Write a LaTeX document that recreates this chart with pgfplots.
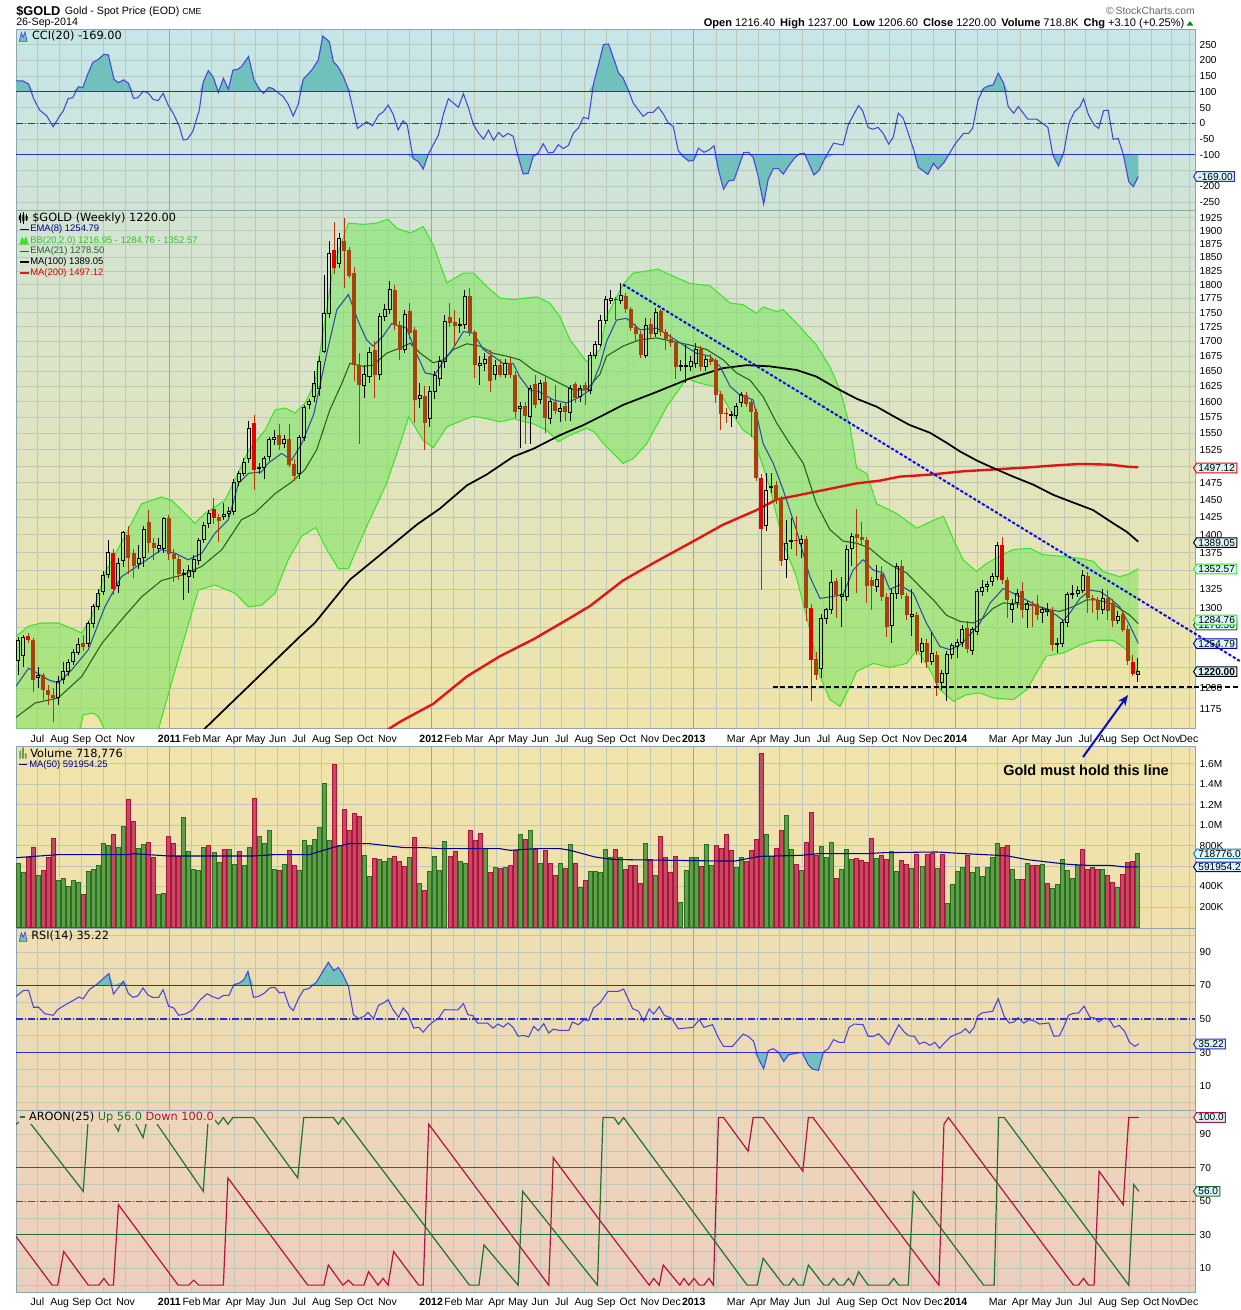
\documentclass[border=0pt]{standalone}
\usepackage{pgfplots}
\pgfplotsset{compat=1.18}
\usepackage{pgfplotstable}
\usetikzlibrary{arrows.meta,shapes.symbols}
\usepackage{fontspec}
\setmainfont{Liberation Sans}
\newfontfamily\dejavu{DejaVu Sans}

\definecolor{gridc}{RGB}{190,200,186}
\definecolor{yearc}{RGB}{150,170,152}
\definecolor{axisc}{RGB}{140,165,175}
\definecolor{ccil}{RGB}{70,70,222}
\definecolor{lvl}{RGB}{45,45,210}
\definecolor{ccifill}{RGB}{112,192,188}
\definecolor{bbline}{RGB}{60,228,40}
\definecolor{bbfill}{RGB}{120,228,95}
\definecolor{bbmid}{RGB}{130,220,110}
\definecolor{emaeight}{RGB}{40,80,165}
\definecolor{ematwo}{RGB}{30,100,30}
\definecolor{matwo}{RGB}{228,20,20}
\definecolor{bodyc}{RGB}{168,66,10}
\definecolor{redc}{RGB}{226,0,0}
\definecolor{wickc}{RGB}{190,50,10}
\definecolor{volg}{RGB}{96,158,74}
\definecolor{volgd}{RGB}{40,112,32}
\definecolor{volr}{RGB}{200,74,98}
\definecolor{volrd}{RGB}{172,20,62}
\definecolor{volma}{RGB}{0,0,140}
\definecolor{aup}{RGB}{30,115,50}
\definecolor{adn}{RGB}{180,20,60}
\definecolor{alvl}{RGB}{30,115,45}
\definecolor{boxfill}{RGB}{218,246,250}
\definecolor{trend}{RGB}{10,10,235}
\definecolor{cciT}{RGB}{198,230,232}
\definecolor{cciB}{RGB}{208,228,214}
\definecolor{prT}{RGB}{210,228,212}
\definecolor{prB}{RGB}{240,228,168}
\definecolor{voT}{RGB}{240,227,172}
\definecolor{voB}{RGB}{240,225,172}
\definecolor{rsT}{RGB}{238,223,178}
\definecolor{rsB}{RGB}{237,216,182}
\definecolor{arT}{RGB}{237,215,186}
\definecolor{arB}{RGB}{237,205,190}

\newcommand\xfont{\fontsize{7.9}{9}\selectfont}
\newcommand\yfont{\fontsize{7.6}{9}\selectfont}
\newcommand\legfont{\fontsize{7.1}{8.5}\selectfont}
\newcommand\titfont{\dejavu\fontsize{8.5}{10}\selectfont}
\newcommand\boxfont{\fontsize{7.6}{9}\selectfont}

\pgfplotsset{
 panel/.style={
   scale only axis, width=884.25pt, height=136.5pt,
   xmin=-0.4, xmax=234.4, anchor=north west,
   axis line style={draw=axisc, line width=0.75pt},
   grid=major, major grid style={draw=gridc, line width=0.6pt},
   xtick={3.86,8.29,12.71,17,21.43,25.71,34.57,38.57,43,47.29,51.71,56,60.43,64.86,69.14,73.57,77.86,86.71,90.86,95.29,99.57,104,108.29,112.71,117.14,121.43,125.86,130.14,139,143,147.43,151.71,156.14,160.43,164.86,169.29,173.57,178,182.29,191.14,195.14,199.57,203.86,208.29,212.57,217,221.43,225.71,229.6,233.2},
   extra x ticks={30.14,82.29,134.57,186.71},
   extra x tick style={grid=major, major grid style={draw=yearc, line width=0.75pt}},
   major tick length=0pt,
   ytick pos=right, yticklabel pos=right,
   xticklabel style={font=\xfont, yshift=-1pt},
   yticklabel style={font=\yfont, anchor=west},
 },
 nolab/.style={xticklabels={}, extra x tick labels={}, xticklabel style={text opacity=0}},
 lab/.style={xticklabels={Jul,Aug,Sep,Oct,Nov,{},Feb,Mar,Apr,May,Jun,Jul,Aug,Sep,Oct,Nov,{},Feb,Mar,Apr,May,Jun,Jul,Aug,Sep,Oct,Nov,Dec,{},Mar,Apr,May,Jun,Jul,Aug,Sep,Oct,Nov,Dec,{},Mar,Apr,May,Jun,Jul,Aug,Sep,Oct,Nov,Dec},
   extra x tick labels={\textbf{2011},\textbf{2012},\textbf{2013},\textbf{2014}}},
 candle/.style={draw=none, mark=none, error bars/y explicit, error bars/error mark=none},
}
\tikzset{vbox/.style={signal, signal to=west, signal pointer angle=115, fill=boxfill, line width=0.75pt, inner xsep=1.3pt, inner ysep=0.9pt, font=\boxfont, anchor=west}}

% ---------------- weekly candles: i open high low close type(0 hollow up,1 down,2 red down)
\pgfplotstableread{
i o h l c t
0 1234 1263 1216 1259 0
1 1240 1265 1225 1262 0
2 1264 1268 1255 1259 2
3 1259 1262 1195 1210 1
4 1213 1225 1200 1215 0
5 1216 1218 1185 1198 1
6 1198 1203 1180 1192 1
7 1192 1200 1160 1188 1
8 1188 1215 1180 1208 0
9 1210 1232 1205 1220 0
10 1220 1236 1215 1231 0
11 1232 1248 1228 1243 0
12 1243 1262 1240 1253 0
13 1255 1265 1246 1250 1
14 1255 1283 1250 1280 0
15 1280 1305 1275 1302 0
16 1302 1325 1298 1320 0
17 1322 1350 1318 1344 0
18 1345 1393 1340 1375 0
19 1375 1380 1318 1326 2
20 1330 1368 1320 1360 0
21 1364 1405 1355 1403 0
22 1400 1412 1345 1368 1
23 1375 1380 1340 1356 1
24 1360 1385 1352 1367 0
25 1368 1412 1355 1407 0
26 1418 1435 1375 1388 1
27 1388 1395 1365 1381 1
28 1381 1395 1375 1385 0
29 1381 1425 1375 1423 0
30 1423 1428 1365 1373 1
31 1373 1380 1335 1366 1
32 1366 1370 1337 1345 1
33 1345 1352 1311 1346 0
34 1342 1358 1320 1351 0
35 1349 1372 1340 1365 0
36 1364 1395 1358 1392 0
37 1393 1418 1388 1413 0
38 1415 1435 1410 1430 0
39 1437 1452 1415 1423 2
40 1425 1430 1390 1419 1
41 1426 1445 1420 1428 0
42 1430 1440 1425 1433 0
43 1433 1480 1428 1476 0
44 1477 1492 1470 1489 0
45 1489 1512 1485 1505 0
46 1511 1570 1505 1558 0
47 1567 1579 1464 1494 2
48 1496 1505 1488 1497 0
49 1497 1515 1480 1511 0
50 1514 1545 1508 1540 0
51 1540 1555 1532 1543 0
52 1547 1565 1525 1532 1
53 1535 1548 1528 1541 0
54 1542 1565 1498 1501 1
55 1503 1510 1478 1485 1
56 1489 1548 1480 1544 0
57 1544 1595 1538 1591 0
58 1595 1605 1588 1600 0
59 1608 1650 1600 1630 0
60 1622 1675 1610 1666 0
61 1683 1818 1680 1749 0
62 1749 1880 1740 1858 0
63 1864 1918 1820 1830 2
64 1839 1895 1830 1886 0
65 1880 1925 1794 1861 1
66 1864 1870 1812 1815 1
67 1821 1833 1633 1660 1
68 1660 1680 1534 1627 1
69 1627 1660 1606 1644 0
70 1641 1690 1630 1682 0
71 1686 1700 1606 1644 1
72 1644 1750 1635 1744 0
73 1744 1765 1735 1756 0
74 1755 1806 1748 1791 0
75 1791 1800 1720 1728 1
76 1728 1735 1669 1686 1
77 1686 1755 1680 1747 0
78 1752 1767 1705 1714 1
79 1720 1725 1566 1602 1
80 1606 1630 1590 1610 0
81 1610 1625 1525 1566 1
82 1573 1625 1560 1617 0
83 1617 1650 1605 1643 0
84 1638 1675 1625 1666 0
85 1666 1745 1655 1735 0
86 1742 1767 1725 1732 1
87 1733 1755 1690 1726 1
88 1728 1740 1715 1730 0
89 1730 1791 1722 1778 0
90 1779 1794 1710 1717 1
91 1716 1720 1638 1660 1
92 1660 1675 1627 1663 0
93 1663 1680 1650 1669 0
94 1675 1685 1615 1633 1
95 1644 1668 1635 1660 0
96 1660 1670 1640 1644 1
97 1644 1670 1638 1663 0
98 1664 1675 1638 1644 1
99 1644 1650 1574 1583 1
100 1589 1600 1527 1593 0
101 1593 1600 1534 1577 1
102 1577 1628 1534 1622 0
103 1629 1644 1590 1595 1
104 1604 1636 1596 1630 0
105 1632 1640 1550 1574 1
106 1574 1605 1565 1600 0
107 1600 1627 1580 1586 1
108 1585 1598 1568 1590 0
109 1594 1600 1569 1583 1
110 1583 1628 1569 1621 0
111 1629 1632 1598 1606 1
112 1608 1628 1600 1622 0
113 1627 1632 1595 1619 1
114 1619 1682 1612 1677 0
115 1677 1700 1670 1694 0
116 1694 1745 1690 1737 0
117 1737 1780 1730 1774 0
118 1772 1791 1765 1775 0
119 1775 1778 1737 1772 2
120 1771 1803 1765 1781 0
121 1780 1785 1750 1756 1
122 1756 1760 1718 1723 1
123 1724 1730 1699 1712 1
124 1712 1718 1672 1677 1
125 1676 1740 1672 1728 0
126 1731 1740 1705 1712 1
127 1714 1758 1708 1750 0
128 1752 1756 1710 1716 1
129 1716 1722 1686 1705 1
130 1705 1712 1690 1697 1
131 1697 1700 1637 1657 1
132 1658 1669 1650 1659 0
133 1658 1694 1630 1660 0
134 1657 1675 1650 1666 0
135 1662 1697 1655 1686 0
136 1688 1692 1650 1657 1
137 1657 1675 1650 1669 0
138 1670 1678 1660 1666 1
139 1669 1672 1598 1611 1
140 1612 1618 1555 1580 1
141 1582 1590 1566 1580 2
142 1578 1585 1560 1579 0
143 1578 1598 1572 1592 0
144 1598 1616 1592 1611 0
145 1611 1616 1592 1597 1
146 1600 1605 1545 1583 1
147 1583 1588 1478 1482 1
148 1482 1488 1324 1408 2
149 1413 1489 1405 1464 0
150 1468 1489 1460 1470 0
151 1472 1478 1444 1450 1
152 1450 1455 1356 1363 1
153 1365 1421 1340 1388 0
154 1390 1424 1380 1392 0
155 1392 1426 1370 1391 2
156 1388 1400 1367 1393 0
157 1394 1398 1283 1300 1
158 1300 1305 1184 1234 2
159 1236 1244 1210 1216 1
160 1224 1292 1212 1287 0
161 1287 1300 1280 1298 0
162 1298 1351 1292 1334 0
163 1336 1340 1287 1317 1
164 1316 1342 1276 1318 0
165 1316 1385 1310 1379 0
166 1381 1402 1356 1398 0
167 1401 1437 1320 1395 1
168 1397 1418 1385 1393 1
169 1393 1397 1307 1329 1
170 1337 1342 1298 1329 1
171 1329 1358 1322 1338 0
172 1345 1356 1310 1315 1
173 1315 1320 1263 1276 1
174 1278 1325 1255 1320 0
175 1320 1360 1312 1356 0
176 1356 1365 1312 1318 1
177 1316 1320 1285 1291 1
178 1290 1326 1264 1292 0
179 1291 1295 1240 1245 1
180 1245 1262 1230 1255 0
181 1255 1260 1224 1232 1
182 1232 1270 1228 1242 0
183 1241 1245 1190 1206 1
184 1206 1222 1198 1218 0
185 1218 1245 1184 1241 0
186 1241 1256 1235 1252 0
187 1251 1260 1237 1256 0
188 1256 1278 1250 1272 0
189 1274 1283 1243 1248 1
190 1246 1276 1240 1272 0
191 1270 1326 1265 1322 0
192 1322 1337 1316 1328 0
193 1329 1336 1322 1331 0
194 1336 1347 1330 1342 0
195 1342 1390 1337 1385 0
196 1386 1396 1332 1337 2
197 1337 1342 1287 1311 1
198 1298 1312 1281 1305 0
199 1307 1325 1300 1320 0
200 1323 1335 1287 1298 1
201 1298 1310 1274 1306 0
202 1305 1310 1276 1303 1
203 1305 1318 1285 1291 1
204 1294 1302 1281 1298 0
205 1296 1307 1290 1298 0
206 1298 1302 1245 1253 1
207 1253 1262 1243 1255 0
208 1255 1285 1250 1281 0
209 1281 1322 1276 1318 0
210 1318 1331 1312 1320 0
211 1320 1330 1315 1324 0
212 1324 1351 1320 1343 0
213 1343 1348 1294 1313 1
214 1313 1318 1294 1311 1
215 1311 1315 1285 1298 1
216 1298 1326 1293 1313 0
217 1313 1324 1285 1296 1
218 1307 1312 1276 1284 1
219 1284 1296 1280 1290 0
220 1293 1298 1270 1272 1
221 1273 1278 1228 1233 1
222 1232 1240 1214 1217 2
223 1216.4 1237 1206.6 1220 0
}\price

\pgfplotstableread{
i v
-0.4 1202
2.1 1224
6.0 1210
8.0 1206
10.7 1222
14.0 1247
17.3 1302
20.6 1342
24.6 1360
28.6 1379
31.3 1374
33.9 1365
36.6 1374
39.2 1402
41.9 1421
43.9 1474
45.9 1489
48.5 1491
49.8 1504
52.5 1519
54.5 1509
56.5 1534
58.9 1580
61.5 1680
63.5 1755
65.8 1782
67.8 1734
69.4 1703
70.7 1692
72.7 1709
74.4 1731
76.1 1726
77.4 1723
79.0 1686
81.1 1647
83.0 1644
84.7 1666
86.7 1689
88.7 1717
90.7 1714
92.7 1686
94.6 1675
96.6 1663
98.6 1663
99.9 1641
101.9 1619
103.9 1616
106.6 1603
109.3 1598
111.9 1608
113.9 1619
115.9 1660
117.2 1700
119.2 1737
121.2 1740
123.9 1720
127.2 1723
129.8 1709
132.5 1694
135.1 1680
137.8 1675
139.8 1658
141.8 1625
143.8 1611
146.4 1603
148.4 1534
150.4 1504
152.4 1464
155.0 1407
157.7 1342
159.7 1313
161.7 1315
164.3 1318
166.3 1351
168.3 1365
170.3 1351
172.3 1347
173.6 1325
175.6 1331
178.3 1320
180.9 1281
183.6 1251
185.6 1247
187.6 1253
189.6 1266
191.6 1281
193.6 1307
196.2 1326
198.2 1320
200.2 1313
202.8 1304
204.8 1298
206.8 1291
208.2 1284
209.5 1294
211.5 1313
213.5 1324
215.5 1322
217.5 1313
219.4 1302
221.4 1278
223.1 1255
}\emaA

\pgfplotstableread{
i v
-0.4 1165
3.4 1182
8.0 1188
12.7 1214
16.7 1255
20.6 1285
24.6 1315
28.6 1337
32.6 1344
36.6 1356
40.6 1379
44.5 1421
47.2 1431
51.2 1459
54.5 1476
57.1 1494
59.5 1525
62.1 1587
64.5 1630
66.1 1663
68.8 1658
70.7 1660
73.4 1680
76.1 1689
78.1 1697
80.1 1680
82.7 1664
84.7 1669
86.7 1686
89.4 1696
92.0 1692
94.6 1680
97.3 1675
99.9 1669
102.6 1652
105.3 1641
107.9 1630
110.6 1619
113.2 1619
115.9 1645
117.2 1675
120.5 1692
123.9 1703
127.2 1706
130.5 1700
133.8 1694
137.2 1686
140.4 1669
143.1 1647
145.8 1635
148.4 1608
151.1 1566
153.7 1534
156.4 1504
159.0 1444
161.7 1407
164.3 1391
167.0 1388
169.6 1381
172.3 1365
174.3 1356
177.0 1347
179.6 1329
182.3 1311
184.9 1291
187.6 1283
190.2 1281
192.2 1287
194.2 1300
196.2 1307
198.2 1306
200.9 1305
203.5 1302
205.5 1298
207.5 1296
210.1 1302
212.8 1311
214.8 1311
217.4 1307
219.4 1300
221.4 1291
223.1 1280
}\emaB

\pgfplotstableread{
i v
35 1140
37.2 1152
56.2 1264
59.1 1281
66.1 1338
72.7 1375
79.4 1414
84.0 1437
89.4 1471
93.3 1487
98.6 1514
102.6 1526
107.9 1547
112.6 1563
115.9 1576
120.5 1595
127.2 1616
133.8 1638
140.4 1655
145.1 1660
149.7 1658
155.0 1652
159.0 1641
163.0 1622
167.0 1605
171.0 1592
175.0 1574
177.6 1563
181.6 1551
185.0 1535
187.6 1522
191.0 1508
194.2 1497
198.2 1484
202.2 1472
206.2 1457
210.1 1446
214.1 1435
218.1 1416
220.8 1404
223.1 1390
}\maA

\pgfplotstableread{
i v
71 1142
73.4 1150
76.1 1160
82.7 1181
89.4 1214
96.0 1239
102.6 1260
109.3 1285
113.9 1303
120.5 1337
127.2 1363
133.8 1388
140.4 1414
147.1 1435
151.0 1450
153.7 1454
160.4 1464
167.0 1474
171.6 1478
175.6 1484
181.6 1487
188.2 1492
194.9 1495
201.5 1498
206.8 1501
211.5 1503
217.5 1502
220.8 1499
223.1 1498
}\maB

\pgfplotstableread{
i v
-0.4 1264
2.1 1277
4.7 1281
8.0 1281
10.7 1274
12.7 1268
14.7 1290
17.3 1347
21.3 1398
24.6 1444
28.6 1454
30.6 1449
32.6 1435
35.2 1416
37.2 1430
41.2 1449
43.2 1479
45.9 1524
49.2 1555
51.2 1587
53.2 1590
55.2 1582
57.2 1598
59.1 1630
60.1 1680
62.8 1833
65.8 1915
68.8 1912
71.4 1915
73.7 1922
75.4 1905
78.1 1896
80.7 1908
82.7 1873
85.4 1803
88.7 1821
90.7 1821
93.3 1797
96.0 1776
98.6 1773
103.3 1778
105.9 1767
107.9 1743
109.9 1703
113.2 1666
115.9 1686
117.2 1743
120.5 1800
122.5 1821
127.5 1828
129.8 1818
133.8 1802
137.8 1798
141.8 1767
144.4 1764
147.1 1749
148.4 1760
151.0 1752
152.4 1755
155.0 1732
159.0 1694
161.7 1657
163.7 1619
165.7 1560
167.0 1497
169.0 1489
171.0 1444
173.6 1435
175.0 1430
179.0 1409
181.6 1418
184.3 1426
186.3 1393
188.2 1365
190.9 1349
192.9 1360
195.5 1370
198.2 1379
201.5 1381
204.1 1372
207.5 1370
211.5 1367
214.1 1363
216.1 1349
219.4 1342
221.4 1346
223.1 1353
}\bbU

\pgfplotstableread{
i v
-0.4 1125
5 1132
10.0 1140
12.3 1152
13.0 1168
15.0 1170
16.0 1166
17.3 1150
20.0 1138
24.0 1132
27.9 1150
31.3 1222
35.9 1324
39.2 1331
43.2 1320
45.9 1302
48.5 1304
51.2 1320
53.8 1365
56.5 1398
59.3 1410
61.5 1379
63.8 1353
65.8 1353
69.4 1411
73.4 1474
76.1 1534
77.8 1576
80.7 1539
82.7 1528
85.4 1560
88.7 1571
90.7 1577
93.3 1573
96.0 1568
98.6 1573
102.6 1565
105.3 1555
107.6 1537
109.9 1547
113.2 1558
114.8 1552
116.6 1534
120.5 1504
122.5 1511
125.2 1534
129.2 1592
133.2 1638
135.8 1630
139.1 1624
141.8 1587
144.4 1555
146.4 1545
149.7 1469
152.4 1388
155.0 1342
157.7 1272
159.7 1214
161.7 1186
163.7 1178
165.7 1202
167.0 1220
170.3 1230
173.6 1225
177.0 1230
179.0 1247
181.6 1222
183.6 1198
186.3 1184
188.9 1192
191.6 1194
194.2 1188
198.2 1186
200.9 1198
202.8 1218
204.8 1239
208.2 1243
211.5 1253
214.8 1259
218.1 1259
220.8 1247
223.1 1217
}\bbL

% band outline: upper band forward, then lower band backward (for the fill)
\pgfplotstableread{
i v
-0.4 1264
2.1 1277
4.7 1281
8.0 1281
10.7 1274
12.7 1268
14.7 1290
17.3 1347
21.3 1398
24.6 1444
28.6 1454
30.6 1449
32.6 1435
35.2 1416
37.2 1430
41.2 1449
43.2 1479
45.9 1524
49.2 1555
51.2 1587
53.2 1590
55.2 1582
57.2 1598
59.1 1630
60.1 1680
62.8 1833
65.8 1915
68.8 1912
71.4 1915
73.7 1922
75.4 1905
78.1 1896
80.7 1908
82.7 1873
85.4 1803
88.7 1821
90.7 1821
93.3 1797
96.0 1776
98.6 1773
103.3 1778
105.9 1767
107.9 1743
109.9 1703
113.2 1666
115.9 1686
117.2 1743
120.5 1800
122.5 1821
127.5 1828
129.8 1818
133.8 1802
137.8 1798
141.8 1767
144.4 1764
147.1 1749
148.4 1760
151.0 1752
152.4 1755
155.0 1732
159.0 1694
161.7 1657
163.7 1619
165.7 1560
167.0 1497
169.0 1489
171.0 1444
173.6 1435
175.0 1430
179.0 1409
181.6 1418
184.3 1426
186.3 1393
188.2 1365
190.9 1349
192.9 1360
195.5 1370
198.2 1379
201.5 1381
204.1 1372
207.5 1370
211.5 1367
214.1 1363
216.1 1349
219.4 1342
221.4 1346
223.1 1353
223.1 1217
220.8 1247
218.1 1259
214.8 1259
211.5 1253
208.2 1243
204.8 1239
202.8 1218
200.9 1198
198.2 1186
194.2 1188
191.6 1194
188.9 1192
186.3 1184
183.6 1198
181.6 1222
179.0 1247
177.0 1230
173.6 1225
170.3 1230
167.0 1220
165.7 1202
163.7 1178
161.7 1186
159.7 1214
157.7 1272
155.0 1342
152.4 1388
149.7 1469
146.4 1545
144.4 1555
141.8 1587
139.1 1624
135.8 1630
133.2 1638
129.2 1592
125.2 1534
122.5 1511
120.5 1504
116.6 1534
114.8 1552
113.2 1558
109.9 1547
107.6 1537
105.3 1555
102.6 1565
98.6 1573
96.0 1568
93.3 1573
90.7 1577
88.7 1571
85.4 1560
82.7 1528
80.7 1539
77.8 1576
76.1 1534
73.4 1474
69.4 1411
65.8 1353
63.8 1353
61.5 1379
59.3 1410
56.5 1398
53.8 1365
51.2 1320
48.5 1304
45.9 1302
43.2 1320
39.2 1331
35.9 1324
31.3 1222
27.9 1150
24.0 1132
20.0 1138
17.3 1150
16.0 1166
15.0 1170
13.0 1168
12.3 1152
10.0 1140
5 1132
-0.4 1125
}\bbPoly

\pgfplotstableread{
i v
-0.4 1195
10 1214
20 1262
30 1322
40 1386
50 1441
60 1538
70 1676
80 1727
90 1698
100 1672
110 1623
120 1649
130 1707
140 1695
150 1604
160 1445
170 1344
180 1324
190 1273
200 1288
210 1308
220 1298
223.1 1285
}\bbM

% ---------------- volume (thousands), g=1 green
\pgfplotstableread{
i v g
0 623 1
1 535 1
2 688 0
3 779 0
4 506 1
5 554 0
6 681 0
7 867 0
8 457 1
9 480 1
10 402 1
11 457 1
12 437 1
13 320 0
14 545 1
15 564 1
16 603 1
17 818 1
18 798 1
19 906 0
20 779 1
21 984 1
22 1247 0
23 1036 0
24 769 1
25 808 1
26 828 0
27 681 0
28 324 1
29 330 1
30 886 0
31 818 0
32 691 0
33 1072 1
34 740 1
35 564 1
36 554 1
37 785 1
38 798 0
39 733 1
40 633 1
41 766 0
42 766 1
43 613 1
44 740 0
45 603 1
46 779 1
47 1257 0
48 886 1
49 818 1
50 945 1
51 564 1
52 554 0
53 613 1
54 749 0
55 603 0
56 554 1
57 854 1
58 798 1
59 863 1
60 974 1
61 1403 1
62 850 1
63 1589 0
64 805 1
65 1150 0
66 945 0
67 1111 0
68 1081 0
69 701 1
70 496 1
71 672 0
72 668 1
73 642 1
74 672 1
75 698 0
76 642 0
77 594 0
78 681 1
79 876 0
80 428 1
81 359 0
82 545 1
83 691 1
84 554 1
85 837 1
86 691 0
87 743 0
88 642 1
89 623 1
90 945 0
91 850 0
92 915 0
93 776 1
94 535 0
95 587 1
96 577 0
97 587 1
98 606 0
99 750 0
100 906 1
101 863 0
102 945 1
103 766 0
104 623 1
105 750 0
106 623 0
107 506 0
108 623 1
109 577 0
110 808 1
111 623 0
112 389 1
113 460 0
114 545 1
115 548 1
116 538 1
117 759 1
118 688 1
119 763 0
120 688 1
121 564 0
122 603 0
123 603 0
124 428 0
125 818 1
126 662 0
127 506 1
128 886 0
129 681 0
130 535 0
131 691 0
132 242 1
133 554 1
134 681 1
135 681 1
136 594 0
137 808 1
138 603 1
139 798 0
140 769 0
141 906 0
142 753 0
143 587 1
144 681 1
145 642 0
146 753 0
147 857 0
148 1696 0
149 906 1
150 691 1
151 769 0
152 948 0
153 1091 1
154 759 1
155 613 0
156 554 1
157 828 0
158 1120 0
159 701 0
160 789 1
161 681 1
162 828 1
163 476 0
164 564 1
165 759 1
166 662 1
167 672 0
168 652 0
169 633 0
170 867 0
171 672 1
172 701 0
173 662 0
174 740 1
175 545 1
176 652 0
177 613 0
178 580 1
179 717 0
180 593 1
181 717 0
182 727 0
183 577 1
184 711 0
185 233 1
186 421 1
187 545 1
188 584 1
189 701 0
190 535 1
191 590 1
192 496 1
193 590 1
194 681 1
195 818 1
196 779 0
197 798 0
198 564 1
199 473 1
200 467 0
201 623 1
202 603 0
203 603 0
204 613 1
205 428 0
206 379 1
207 418 1
208 662 1
209 554 1
210 476 1
211 603 1
212 759 0
213 564 0
214 584 0
215 564 0
216 564 1
217 512 0
218 437 0
219 389 1
220 515 0
221 633 0
222 642 0
223 719 1
}\vol

\pgfplotstableread{
i v
-0.4 681
8 711
22 711
23 720
30 698
47 698
51 711
58 711
63 785
66 818
70 818
77 779
81 779
84 769
96 769
98 753
103 769
108 769
110 753
114.9 688
118.2 665
120.7 662
139.6 649
142.8 649
147.7 694
155.9 704
159.2 720
169.0 720
172.3 730
183.0 737
188.7 720
196.9 700
201.0 662
205.1 639
209.2 616
213.3 606
217.4 606
220.7 590
223.1 592
}\volma

% ---------------- CCI(20)
\pgfplotstableread{
i v
-0.4 135
0.9 135
2.1 125
3.1 79
4.3 42
5.7 24
7.0 -11
8.2 21
9.0 39
10.0 79
10.9 81
12.0 116
12.9 113
13.8 153
14.9 193
16.0 203
17.1 219
18.0 217
19.1 140
20.0 129
21.0 138
22.0 127
23.0 79
23.8 81
25.0 102
26.0 95
26.9 76
27.9 72
28.9 95
29.9 58
30.9 32
32.1 -8
32.9 -53
33.7 -51
34.8 -26
36.1 42
36.9 132
37.9 167
38.9 146
39.9 98
40.9 143
41.9 108
42.8 169
43.7 171
44.5 180
45.9 212
47.0 138
48.1 108
48.9 95
49.9 114
50.7 111
51.8 97
52.8 85
53.8 61
54.8 23
55.8 60
56.8 140
58.5 169
59.8 201
60.7 277
62.0 259
62.8 196
63.8 178
64.8 148
65.8 108
67.6 -16
68.4 -7
69.4 5
70.6 -8
71.8 26
72.8 37
73.7 58
74.7 29
75.7 -21
76.7 8
77.5 -4
78.7 -112
79.7 -121
80.7 -145
81.7 -99
82.7 -68
83.7 -38
84.7 28
85.7 78
87.7 51
88.7 94
89.7 49
90.7 -4
91.7 -31
92.7 -50
93.7 -22
94.7 -54
95.7 -29
96.6 -43
97.6 -32
98.6 -41
99.6 -105
100.6 -161
101.6 -159
102.6 -105
103.6 -94
104.6 -65
105.6 -94
106.6 -92
107.6 -68
108.6 -80
109.6 -70
110.6 -31
111.6 -15
112.6 19
113.6 14
114.6 125
115.6 186
116.6 250
117.6 252
118.6 207
119.6 160
120.5 144
121.5 107
122.5 65
123.5 43
124.5 22
125.5 35
126.5 35
127.5 52
128.5 30
129.5 1
130.5 -10
131.5 -87
132.5 -106
133.6 -120
134.5 -118
135.5 -79
136.6 -92
137.6 -85
138.6 -71
139.5 -148
140.5 -209
141.5 -183
142.6 -180
144.5 -93
145.5 -92
146.4 -108
147.3 -161
148.5 -256
149.4 -178
150.4 -144
151.4 -143
152.4 -161
153.5 -135
154.6 -111
155.6 -97
156.6 -95
157.5 -127
158.5 -164
159.5 -150
160.6 -114
162.4 -63
164.3 -69
165.4 -2
167.4 56
168.2 40
169.3 -13
170.2 -19
171.3 -13
172.3 -32
173.4 -66
174.3 -44
175.3 32
176.3 16
177.3 -32
178.4 -85
179.3 -140
181.2 -162
182.3 -127
183.2 -145
184.4 -125
185.3 -101
186.6 -66
188.3 -32
189.3 -32
190.1 -16
191.2 74
192.3 111
193.3 119
194.2 122
195.2 159
196.3 127
197.2 53
198.3 32
199.2 53
201.1 13
202.9 13
204.0 0
205.1 -13
206.1 -101
207.2 -135
208.3 -90
209.3 0
210.4 37
211.5 53
212.2 78
213.2 26
214.3 -5
215.2 -16
216.2 40
217.1 42
218.1 -51
219.1 -48
220.1 -97
221.2 -185
222.1 -201
223.1 -169
}\cci

% ---------------- RSI(14)
\pgfplotstableread{
i v
-0.4 63.5
1.1 67.1
2.1 67.1
3.1 57
4.1 57
5.3 53.2
7.0 52.2
7.9 55.6
9.5 58.6
11.0 61.1
12.1 63.1
13.0 62.1
14.2 67.5
15.6 70.5
18.1 77.1
19.0 64.9
21.0 72.5
22.0 65.1
22.9 62.9
23.9 63.9
24.9 68.5
25.8 64.5
26.8 62.9
28.0 62.9
28.9 67.5
30.0 57.6
31.0 56.6
32.0 52.2
33.5 53.2
34.8 55.6
36.3 61.5
37.7 65.1
38.6 63.5
39.9 62.1
40.9 64.1
42.0 64.1
43.0 70.5
44.1 71.5
45.0 73.5
45.8 78.5
46.9 62.9
47.9 63.5
49.1 65.5
50.1 68.5
51.1 68.9
52.1 65.5
53.0 66.1
54.0 57.6
54.8 55.0
55.9 62.5
56.9 67.5
57.9 68.1
59.4 71.9
61.8 83.8
62.9 78.9
63.8 80.8
64.7 76.5
65.8 69.5
66.8 52.6
67.8 50.2
68.9 51.6
69.7 54.0
70.8 50.2
71.8 58.2
72.8 59.6
73.7 61.5
74.6 56.0
75.8 51.0
76.7 56.6
77.7 53.0
78.8 44.6
79.8 45.0
80.7 42.2
81.8 46.2
82.8 48.6
83.8 50.6
84.9 55.6
86.0 55.4
87.6 55.4
88.7 59.2
89.6 52.6
90.6 52.0
91.5 47.6
93.5 47.6
94.6 44.6
95.6 47.0
96.6 45.2
97.6 47.6
98.6 45.0
99.6 39.7
100.7 40.2
101.7 39.3
102.7 45.6
103.6 43.0
104.7 47.2
105.7 41.6
106.6 44.0
107.8 43.2
109.7 43.2
110.4 48.2
111.6 46.6
112.7 49.6
113.6 49.0
114.6 56.6
115.9 59.6
117.5 66.5
119.6 66.5
120.6 67.9
122.4 56.2
123.6 54.6
124.6 48.6
125.7 56.0
126.6 53.0
127.7 57.4
128.7 52.2
130.1 50.6
131.5 44.2
133.0 44.6
134.4 45.0
135.7 49.6
136.6 45.0
138.3 46.6
139.5 38.7
140.5 33.7
142.3 33.7
144.4 41.0
145.4 39.7
146.5 36.7
147.4 26.7
148.5 20.3
149.4 31.1
150.4 32.3
151.4 30.3
152.5 24.7
153.5 28.7
156.1 30.1
157.4 22.7
158.2 20.1
159.4 19.4
160.4 30.3
161.4 32.3
162.4 37.7
163.5 36.1
164.5 36.1
165.5 45.0
166.5 47.0
168.3 46.6
169.3 39.7
170.4 39.7
171.4 41.2
173.4 34.7
175.4 46.6
176.5 42.2
177.4 40.0
178.5 39.7
179.5 35.1
180.5 36.3
181.6 34.3
182.6 36.1
183.5 32.5
184.6 36.1
185.7 39.3
186.6 40.6
187.8 42.0
188.7 44.2
189.5 41.6
190.4 45.0
191.1 51.6
191.9 53.6
194.1 54.6
195.2 62.1
196.4 51.6
197.4 47.6
198.3 48.2
199.2 50.8
200.3 47.6
201.4 49.6
202.5 48.6
203.4 47.0
205.3 47.6
206.3 39.7
207.4 40.0
208.3 45.6
209.2 52.2
210.2 53.4
211.2 53.6
212.3 57.6
213.5 51.0
214.4 50.6
215.2 48.2
216.4 50.6
217.4 49.4
218.3 45.0
219.3 46.2
220.4 42.6
221.3 36.3
222.4 33.7
223.2 35.2
}\rsi

% ---------------- Aroon(25)
\pgfplotstableread{
i v
-0.4 96
1.5 100
2.6 96
13.0 56
14.0 100
18.4 100
20.0 92
20.7 100
22.8 100
24.9 88
25.8 100
26.8 100
36.9 56
37.9 100
38.8 100
39.9 96
40.9 100
41.8 96
42.8 100
46.9 100
55.7 64
56.9 100
62.8 100
63.8 96
64.7 100
89.9 0
91.8 0
92.8 24
99.6 0
100.5 56
115.4 0
116.5 100
118.7 100
119.6 96
120.6 100
145.2 0
147.2 0
148.4 16
152.5 0
153.5 0
154.4 4
155.4 0
156.4 0
157.4 12
160.5 0
161.4 0
162.4 4
163.5 0
164.4 0
165.4 4
166.4 0
167.4 8
169.3 0
173.4 0
174.4 4
175.4 0
177.3 0
178.3 56
192.3 0
194.4 0
195.3 100
196.4 100
221.2 0
222.2 60
223.2 56
}\aup

\pgfplotstableread{
i v
-0.4 29
6.8 0
7.9 0
9.1 20
14.0 0
16.1 0
17.1 4
18.1 0
19.0 0
20.0 48
31.9 0
34.0 0
35.0 3
36.0 0
40.9 0
41.8 64
57.7 0
60.9 0
61.8 12
64.7 0
65.8 3
66.8 0
68.9 0
69.8 8
71.7 0
72.7 4
73.7 0
74.8 20
79.8 0
80.7 0
81.8 96
105.7 0
106.6 76
115.9 38.5
125.7 0
126.6 4
127.7 0
128.5 12
131.8 0
132.6 4
133.6 0
134.6 4
135.7 0
136.6 0
137.6 4
138.5 0
139.5 100
140.5 100
145.4 80
146.4 100
148.4 100
156.3 68
157.4 100
158.3 100
183.4 0
184.4 96
185.3 100
210.2 0
211.2 0
212.2 4
213.2 0
214.3 0
215.3 68
220.1 48
221.2 100
223.2 100
}\adn

\begin{document}
\begin{tikzpicture}
\path[use as bounding box] (0,0) rectangle (930pt,-982.5pt);
\fill[white] (0,0) rectangle (930pt,-982.5pt);

% ================= CCI panel
\begin{axis}[panel, nolab, at={(12pt,-21.75pt)}, height=136.5pt,
  ymin=-278.4, ymax=299.4,
  ytick={-250,-200,-150,-100,-50,0,50,100,150,200,250},
  yticklabels={-250,-200,,-100,-50,0,50,100,150,200,250},
  axis background/.style={top color=cciT, bottom color=cciB}]
% shaded excursions beyond +-100 (stacked on the threshold levels)
\addplot[draw=none, fill=none, stack plots=y, forget plot] table[x=i, y expr=100]{\cci};
\addplot[fill=ccifill, draw=none, stack plots=y, forget plot] table[x=i, y expr={max(\thisrow{v},100)-100}]{\cci} \closedcycle;
\addplot[draw=none, fill=none, stack plots=y, forget plot] table[x=i, y expr={-max(\thisrow{v},100)-100}]{\cci};
\addplot[fill=ccifill, draw=none, stack plots=y, forget plot] table[x=i, y expr={min(\thisrow{v},-100)+100}]{\cci} \closedcycle;
\addplot[draw=ccil, line width=0.8pt] table[x=i,y=v]{\cci};
\addplot[draw=lvl, line width=0.8pt] coordinates {(-0.4,100) (234.4,100)};
\addplot[draw=lvl, line width=0.8pt] coordinates {(-0.4,-100) (234.4,-100)};
\addplot[draw=lvl, line width=0.8pt, dash pattern=on 5pt off 1.5pt on 1pt off 1.5pt] coordinates {(-0.4,0) (234.4,0)};
\end{axis}

% ================= Price panel
\begin{axis}[panel, lab, at={(12pt,-158.25pt)}, height=388.5pt,
  ymode=log, ymin=1151.6, ymax=1938.6, yminorticks=false,
  ytick={1175,1200,1225,1250,1275,1300,1325,1350,1375,1400,1425,1450,1475,1500,1525,1550,1575,1600,1625,1650,1675,1700,1725,1750,1775,1800,1825,1850,1875,1900,1925},
  yticklabels={1175,1200,,,,1300,1325,,1375,1400,1425,1450,1475,,1525,1550,1575,1600,1625,1650,1675,1700,1725,1750,1775,1800,1825,1850,1875,1900,1925},
  axis background/.style={top color=prT, bottom color=prB}]
\addplot[fill=bbfill, fill opacity=0.55, draw=none] table[x=i,y=v]{\bbPoly};
\addplot[bbline, line width=0.8pt] table[x=i,y=v]{\bbU};
\addplot[bbline, line width=0.8pt] table[x=i,y=v]{\bbL};
\addplot[bbmid, line width=0.7pt, dotted] table[x=i,y=v]{\bbM};
\addplot[matwo, line width=1.8pt] table[x=i,y=v]{\maB};
\addplot[black, line width=1.3pt] table[x=i,y=v]{\maA};
\addplot[ematwo, line width=0.8pt] table[x=i,y=v]{\emaB};
\addplot[emaeight, line width=0.8pt] table[x=i,y=v]{\emaA};
% down candles: wicks
\addplot[candle, restrict expr to domain={\thisrow{t}}{1:2},
  error bars/.cd, y dir=plus, error bar style={line width=0.75pt, draw=wickc}]
  table[x=i, y=l, y error plus expr=\thisrow{h}-\thisrow{l}]{\price};
% down candles: brown bodies
\addplot[candle, restrict expr to domain={\thisrow{t}}{1:1},
  error bars/.cd, y dir=plus, error bar style={line width=3pt, draw=bodyc}]
  table[x=i, y=c, y error plus expr=\thisrow{o}-\thisrow{c}]{\price};
% down candles: red bodies
\addplot[candle, restrict expr to domain={\thisrow{t}}{2:2},
  error bars/.cd, y dir=plus, error bar style={line width=3pt, draw=redc}]
  table[x=i, y=c, y error plus expr=\thisrow{o}-\thisrow{c}]{\price};
% up candles: upper and lower wicks
\addplot[candle, restrict expr to domain={\thisrow{t}}{0:0},
  error bars/.cd, y dir=plus, error bar style={line width=0.75pt, draw=black}]
  table[x=i, y=c, y error plus expr=\thisrow{h}-\thisrow{c}]{\price};
\addplot[candle, restrict expr to domain={\thisrow{t}}{0:0},
  error bars/.cd, y dir=minus, error bar style={line width=0.75pt, draw=black}]
  table[x=i, y=o, y error minus expr=\thisrow{o}-\thisrow{l}]{\price};
% up candles: hollow bodies (left and right edges, top and bottom)
\addplot[candle, restrict expr to domain={\thisrow{t}}{0:0},
  error bars/.cd, y dir=plus, error bar style={line width=0.75pt, draw=black}]
  table[x expr=\thisrow{i}-0.3, y=o, y error plus expr=\thisrow{c}-\thisrow{o}]{\price};
\addplot[candle, restrict expr to domain={\thisrow{t}}{0:0},
  error bars/.cd, y dir=plus, error bar style={line width=0.75pt, draw=black}]
  table[x expr=\thisrow{i}+0.3, y=o, y error plus expr=\thisrow{c}-\thisrow{o}]{\price};
\addplot[only marks, mark=-, mark size=1.5pt, mark options={draw=black, line width=0.75pt},
  restrict expr to domain={\thisrow{t}}{0:0}] table[x=i, y=c]{\price};
\addplot[only marks, mark=-, mark size=1.5pt, mark options={draw=black, line width=0.75pt},
  restrict expr to domain={\thisrow{t}}{0:0}] table[x=i, y=o]{\price};
\end{axis}

% ================= Volume panel
\begin{axis}[panel, nolab, at={(12pt,-559.5pt)}, height=136.5pt,
  ymin=-5, ymax=1771,
  ytick={200,400,600,800,1000,1200,1400,1600},
  yticklabels={200K,400K,,800K,1.0M,1.2M,1.4M,1.6M},
  axis background/.style={top color=voT, bottom color=voB}]
\addplot[ybar, bar width=3pt, bar shift=0pt, fill=volg, draw=volgd, line width=0.5pt,
  restrict expr to domain={\thisrow{g}}{1:1}] table[x=i,y=v]{\vol};
\addplot[ybar, bar width=3pt, bar shift=0pt, fill=volr, draw=volrd, line width=0.5pt,
  restrict expr to domain={\thisrow{g}}{0:0}] table[x=i,y=v]{\vol};
\addplot[volma, line width=0.8pt] table[x=i,y=v]{\volma};
\end{axis}

% ================= RSI panel
\begin{axis}[panel, nolab, at={(12pt,-696pt)}, height=136.5pt,
  ymin=-4.3, ymax=104.3,
  ytick={0,10,20,30,40,50,60,70,80,90,100},
  yticklabels={,10,,30,,50,,70,,90,},
  axis background/.style={top color=rsT, bottom color=rsB}]
\addplot[draw=none, fill=none, stack plots=y, forget plot] table[x=i, y expr=70]{\rsi};
\addplot[fill=ccifill, draw=none, stack plots=y, forget plot] table[x=i, y expr={max(\thisrow{v},70)-70}]{\rsi} \closedcycle;
\addplot[draw=none, fill=none, stack plots=y, forget plot] table[x=i, y expr={-max(\thisrow{v},70)+30}]{\rsi};
\addplot[fill=ccifill, draw=none, stack plots=y, forget plot] table[x=i, y expr={min(\thisrow{v},30)-30}]{\rsi} \closedcycle;
\addplot[draw=ccil, line width=0.8pt] table[x=i,y=v]{\rsi};
\addplot[draw=lvl, line width=0.8pt] coordinates {(-0.4,70) (234.4,70)};
\addplot[draw=lvl, line width=0.8pt] coordinates {(-0.4,30) (234.4,30)};
\addplot[draw=lvl, line width=0.8pt, dash pattern=on 5pt off 1.5pt on 1pt off 1.5pt] coordinates {(-0.4,50) (234.4,50)};
\end{axis}

% ================= Aroon panel
\begin{axis}[panel, lab, at={(12pt,-832.5pt)}, height=136.5pt,
  ymin=-4.1, ymax=104.5,
  ytick={0,10,20,30,40,50,60,70,80,90,100},
  yticklabels={,10,,30,,50,,70,,90,},
  axis background/.style={top color=arT, bottom color=arB}]
\addplot[draw=adn, line width=0.9pt] table[x=i,y=v]{\adn};
\addplot[draw=aup, line width=0.9pt] table[x=i,y=v]{\aup};
\addplot[draw=alvl, line width=0.8pt] coordinates {(-0.4,70) (234.4,70)};
\addplot[draw=alvl, line width=0.8pt] coordinates {(-0.4,30) (234.4,30)};
\addplot[draw=alvl, line width=0.8pt, dash pattern=on 5pt off 1.5pt on 1pt off 1.5pt] coordinates {(-0.4,50) (234.4,50)};
\end{axis}

% ================= header
\node[anchor=west, inner sep=0, font=\fontsize{9.6}{11}\selectfont\bfseries] at (12pt,-8.25pt) {\$GOLD};
\node[anchor=west, inner sep=0, font=\fontsize{8}{10}\selectfont] at (48.5pt,-8.6pt) {Gold - Spot Price (EOD)};
\node[anchor=west, inner sep=0, font=\fontsize{6.5}{8}\selectfont] at (136.5pt,-8.9pt) {CME};
\node[anchor=west, inner sep=0, font=\fontsize{8}{10}\selectfont] at (12pt,-17.5pt) {26-Sep-2014};
\node[anchor=east, inner sep=0, font=\fontsize{8.3}{10}\selectfont] at (888.5pt,-17.5pt)
  {\textbf{Open} 1216.40\hspace{0.45em}\textbf{High} 1237.00\hspace{0.45em}\textbf{Low} 1206.60\hspace{0.45em}\textbf{Close} 1220.00\hspace{0.45em}\textbf{Volume} 718.8K\hspace{0.45em}\textbf{Chg} +3.10 (+0.25\%)};
\fill[green!55!black] (890pt,-19.3pt) -- (895pt,-19.3pt) -- (892.5pt,-15.8pt) -- cycle;
\node[anchor=east, inner sep=0, font=\fontsize{7.8}{10}\selectfont, text=black!60] at (896.25pt,-8.25pt) {\textcopyright\,StockCharts.com};

% ================= panel legends
\draw[ccil, fill=ccifill, line width=0.5pt] (14.5pt,-31pt) -- (16pt,-24.5pt) -- (17.3pt,-28pt) -- (18.8pt,-24pt) -- (20.3pt,-31pt) -- cycle;
\node[anchor=west, inner sep=0, font=\titfont] at (23.8pt,-27.2pt) {CCI(20) -169.00};

\draw[black, line width=0.6pt] (15pt,-160pt) -- (15pt,-167pt) (17.5pt,-159pt) -- (17.5pt,-168pt) (20pt,-160.5pt) -- (20pt,-166pt);
\fill[black] (14.2pt,-161.5pt) rectangle (15.8pt,-165pt) (16.7pt,-161pt) rectangle (18.3pt,-166pt) (19.2pt,-162pt) rectangle (20.8pt,-165pt);
\node[anchor=west, inner sep=0, font=\titfont] at (24pt,-163.7pt) {\$GOLD (Weekly) 1220.00};
\draw[blue!60!black, line width=1.2pt] (15pt,-172pt) -- (21.5pt,-172pt);
\node[anchor=west, inner sep=0, font=\legfont, text=blue!60!black] at (22.5pt,-172pt) {EMA(8) 1254.79};
\fill[bbline] (14.5pt,-183.5pt) -- (16.5pt,-177.5pt) -- (18pt,-180pt) -- (19.5pt,-177pt) -- (21.5pt,-183.5pt) -- cycle;
\node[anchor=west, inner sep=0, font=\legfont, text=bbline!85!black] at (22.5pt,-180.5pt) {BB(20,2.0) 1216.95 - 1284.76 - 1352.57};
\draw[ematwo, line width=1.2pt] (15pt,-188.5pt) -- (21.5pt,-188.5pt);
\node[anchor=west, inner sep=0, font=\legfont, text=ematwo] at (22.5pt,-188.5pt) {EMA(21) 1278.50};
\draw[black, line width=1.2pt] (15pt,-196.5pt) -- (21.5pt,-196.5pt);
\node[anchor=west, inner sep=0, font=\legfont] at (22.5pt,-196.5pt) {MA(100) 1389.05};
\draw[matwo, line width=1.2pt] (15pt,-204.75pt) -- (21.5pt,-204.75pt);
\node[anchor=west, inner sep=0, font=\legfont, text=red!90!black] at (22.5pt,-204.75pt) {MA(200) 1497.12};

\fill[volg] (14.6pt,-569pt) rectangle (15.9pt,-563pt) (16.6pt,-569pt) rectangle (17.9pt,-560.5pt) (18.6pt,-569pt) rectangle (19.9pt,-565pt);
\node[anchor=west, inner sep=0, font=\titfont] at (22.5pt,-565.1pt) {Volume 718,776};
\draw[volma, line width=1.2pt] (14.5pt,-573.5pt) -- (20.5pt,-573.5pt);
\node[anchor=west, inner sep=0, font=\legfont, text=volma] at (21.75pt,-573.5pt) {MA(50) 591954.25};

\draw[ccil, fill=ccifill, line width=0.5pt] (14.5pt,-706pt) -- (16pt,-699.5pt) -- (17.3pt,-703pt) -- (18.8pt,-699pt) -- (20.3pt,-706pt) -- cycle;
\node[anchor=west, inner sep=0, font=\titfont] at (23.25pt,-701.8pt) {RSI(14) 35.22};

\node[anchor=west, inner sep=0.6pt, fill=arT, font=\titfont] at (14pt,-838.1pt)
  {\textcolor{aup}{\rule[0.25em]{0.5em}{0.12em}}\ AROON(25) \textcolor{aup}{Up 56.0} \textcolor{adn}{Down 100.0}};

% ================= value boxes
\node[vbox, draw=lvl] at (894.75pt,-132.4pt) {-169.00};
\node[vbox, draw=red] at (894.75pt,-351pt) {1497.12};
\node[vbox, draw=black] at (894.75pt,-406.9pt) {1389.05};
\node[vbox, draw=bbline] at (894.75pt,-426.75pt) {1352.57};
\node[vbox, draw=ematwo] at (894.75pt,-468.75pt) {1278.50};
\node[vbox, draw=bbline] at (894.75pt,-465pt) {1284.76};
\node[vbox, draw=blue!70!black] at (894.75pt,-482.7pt) {1254.79};
\node[vbox, draw=black, font=\boxfont\bfseries] at (894.75pt,-503.7pt) {1220.00};
\node[vbox, draw=cyan!60!blue] at (894.75pt,-640.35pt) {718776.0};
\node[vbox, draw=blue!70!black] at (894.75pt,-650.1pt) {591954.2};
\node[vbox, draw=lvl] at (894.75pt,-783pt) {35.22};
\node[vbox, draw=adn] at (894.75pt,-838.1pt) {100.0};
\node[vbox, draw=aup] at (894.75pt,-893.5pt) {56.0};

% ================= trend line and support line
\begin{axis}[scale only axis, width=884.25pt, height=388.5pt, at={(12pt,-158.25pt)}, anchor=north west,
  xmin=-0.4, xmax=234.4, ymode=log, ymin=1151.6, ymax=1938.6, hide axis, clip=false]
\addplot[trend, line width=1.5pt, dash pattern=on 2.3pt off 1.5pt] coordinates {(120.5,1800) (243.3,1233)};
\addplot[black, line width=1.5pt, dash pattern=on 3.75pt off 2pt] coordinates {(150.3,1201) (243.3,1201)};
\end{axis}

% ================= annotation
\draw[trend!85!black, line width=1.5pt, -{Stealth[length=8pt,width=6.5pt]}] (812.25pt,-567.75pt) -- (846pt,-521.25pt);
\node[font=\fontsize{10.9}{12}\selectfont\bfseries, inner sep=0] at (814.5pt,-578pt) {Gold must hold this line};
\end{tikzpicture}
\end{document}
